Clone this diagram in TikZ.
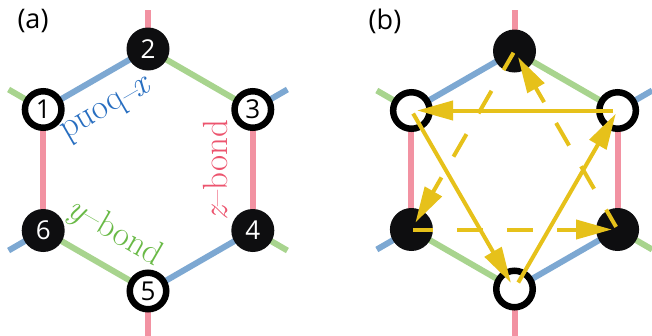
\documentclass[tikz,border=0pt]{standalone}
\usepackage{fontspec}
\setsansfont{Open Sans}
\usetikzlibrary{arrows.meta,backgrounds}
\definecolor{bondx}{RGB}{125,168,210}
\definecolor{bondy}{RGB}{168,212,142}
\definecolor{bondz}{RGB}{242,146,162}
\definecolor{textx}{RGB}{40,110,192}
\definecolor{texty}{RGB}{105,185,70}
\definecolor{textz}{RGB}{236,84,110}
\definecolor{sitefill}{RGB}{14,14,16}
\definecolor{flux}{RGB}{230,193,26}
\begin{document}
\begin{tikzpicture}[x=1pt,y=-1pt,
  bond/.style={line width=6pt},
  xbond/.style={bond,draw=bondx},
  ybond/.style={bond,draw=bondy},
  zbond/.style={bond,draw=bondz},
  numfont/.style={font=\sffamily\fontsize{26}{26}\selectfont},
  wsite/.style={circle,draw=black,line width=6.5pt,fill=white,minimum size=36.5pt,inner sep=0pt,numfont},
  bsite/.style={circle,fill=sitefill,minimum size=43pt,inner sep=0pt,text=white,numfont},
  blabel/.style={font=\fontsize{35}{35}\selectfont,inner sep=0pt},
  panel/.style={font=\sffamily\fontsize{27}{27}\selectfont,inner sep=0pt},
  flow/.style={draw=flux,line width=4pt,-{Triangle[length=36pt,width=19pt]}},
  dflow/.style={flow,dash pattern=on 26pt off 24pt,dash phase=6pt}]
\useasboundingbox (0,0) rectangle (652,335);
\clip (0,0) rectangle (652,335);
% ---------- panel (a)
\node[panel] (la) at (33,21) {(a)};
\node[wsite] (a1) at (43.2,109.5) {1};
\node[bsite] (a2) at (148,49) {2};
\node[wsite] (a3) at (252.8,109.5) {3};
\node[bsite] (a4) at (252.8,230.5) {4};
\node[wsite] (a5) at (148,291) {5};
\node[bsite] (a6) at (43.2,230.5) {6};
\coordinate (a2o) at (148,10);
\coordinate (a5o) at (148,340);
\coordinate (a1o) at (8.6,89.5);
\coordinate (a3o) at (287.4,89.5);
\coordinate (a6o) at (8.6,250.5);
\coordinate (a4o) at (287.4,250.5);
\begin{scope}[on background layer]
  \draw[xbond] (a1.center) -- (a2.center);
  \draw[ybond] (a2.center) -- (a3.center);
  \draw[zbond] (a3.center) -- (a4.center);
  \draw[xbond] (a4.center) -- (a5.center);
  \draw[ybond] (a5.center) -- (a6.center);
  \draw[zbond] (a6.center) -- (a1.center);
  \draw[zbond] (a2.center) -- (a2o);
  \draw[zbond] (a5.center) -- (a5o);
  \draw[ybond] (a1.center) -- (a1o);
  \draw[xbond] (a3.center) -- (a3o);
  \draw[xbond] (a6.center) -- (a6o);
  \draw[ybond] (a4.center) -- (a4o);
\end{scope}
\node[blabel,text=textx,rotate=210] (lx) at (109,111) {{\itshape x}--bond};
\node[blabel,text=texty,rotate=-30] (ly) at (115,233) {{\itshape y}--bond};
\node[blabel,text=textz,rotate=90] (lz) at (215.5,170) {{\itshape z}--bond};
% ---------- panel (b)
\node[panel] (lb) at (385,21) {(b)};
\node[wsite] (b1) at (411.4,110.5) {};
\node[bsite] (b2) at (514.5,51) {};
\node[wsite] (b3) at (617.6,110.5) {};
\node[bsite] (b4) at (617.6,229.5) {};
\node[wsite] (b5) at (514.5,289) {};
\node[bsite] (b6) at (411.4,229.5) {};
\coordinate (b2o) at (514.5,10);
\coordinate (b5o) at (514.5,340);
\coordinate (b1o) at (376.8,90.5);
\coordinate (b3o) at (652.2,90.5);
\coordinate (b6o) at (376.8,249.5);
\coordinate (b4o) at (652.2,249.5);
\begin{scope}[on background layer]
  \draw[xbond] (b1.center) -- (b2.center);
  \draw[ybond] (b2.center) -- (b3.center);
  \draw[zbond] (b3.center) -- (b4.center);
  \draw[xbond] (b4.center) -- (b5.center);
  \draw[ybond] (b5.center) -- (b6.center);
  \draw[zbond] (b6.center) -- (b1.center);
  \draw[zbond] (b2.center) -- (b2o);
  \draw[zbond] (b5.center) -- (b5o);
  \draw[ybond] (b1.center) -- (b1o);
  \draw[xbond] (b3.center) -- (b3o);
  \draw[xbond] (b6.center) -- (b6o);
  \draw[ybond] (b4.center) -- (b4o);
\end{scope}
\draw[dflow,shorten <=2pt,shorten >=8pt] (b2.center) -- (b6.center);
\draw[dflow,shorten <=2pt,shorten >=5.6pt] (b6.center) -- (b4.center);
\draw[dflow,shorten <=3pt,shorten >=7pt] (b4.center) -- (b2.center);
\draw[flow,shorten <=4.6pt,shorten >=5.6pt] (b3.center) -- (b1.center);
\draw[flow,shorten <=3.5pt,shorten >=7pt] (b1.center) -- (b5.center);
\draw[flow,shorten <=7.5pt,shorten >=3.6pt] (b5.center) -- (b3.center);
\end{tikzpicture}
\end{document}
